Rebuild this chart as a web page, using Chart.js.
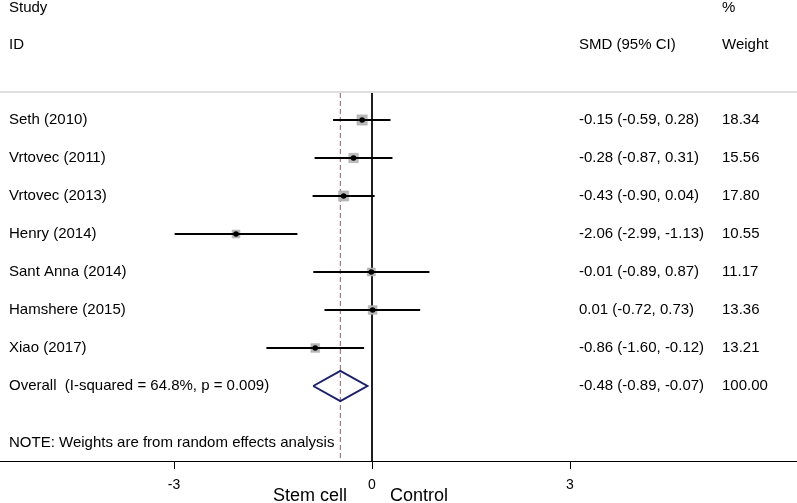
<!DOCTYPE html>
<html>
<head>
<meta charset="utf-8">
<script src="https://cdn.jsdelivr.net/npm/chart.js@4.4.1/dist/chart.umd.min.js"></script>
<style>
  body { margin: 0; background: #fff; }
  #wrap { width: 797px; height: 503px; }
</style>
</head>
<body>
<div id="wrap"><canvas id="forest"></canvas></div>
<script>
// data
const studies = ['Seth (2010)', 'Vrtovec (2011)', 'Vrtovec (2013)', 'Henry (2014)', 'Sant Anna (2014)', 'Hamshere (2015)', 'Xiao (2017)']
const smd = [-0.15, -0.28, -0.43, -2.06, -0.01, 0.01, -0.86]
const lower = [-0.59, -0.87, -0.90, -2.99, -0.89, -0.72, -1.60]
const upper = [0.28, 0.31, 0.04, -1.13, 0.87, 0.73, -0.12]
const weights = [18.34, 15.56, 17.80, 10.55, 11.17, 13.36, 13.21]
const overall = [-0.48, -0.89, -0.07] // est, lo, hi
const overallLabel = 'Overall  (I-squared = 64.8%, p = 0.009)'
const xTicks = [-3, 0, 3]

// row positions (row 1 = first study)
const yMin = -82 / 38
const yMax = 379 / 38
const xMin = -372 / 66
const xMax = 425 / 66
const overallRow = studies.length + 1

const font = '15px "Liberation Sans", Arial, sans-serif'

const datasets = []

// light line under the header
datasets.push({
    data: [{x: xMin, y: 10 / 38}, {x: xMax, y: 10 / 38}],
    showLine: true, borderColor: '#d4d4d4', borderWidth: 1.5, pointRadius: 0, order: 5
})
// line of no effect
datasets.push({
    data: [{x: 0, y: 11 / 38}, {x: 0, y: yMax}],
    showLine: true, borderColor: '#000', borderWidth: 1, pointRadius: 0, order: 4
})
// overall estimate dashed line
datasets.push({
    data: [{x: overall[0], y: 11 / 38}, {x: overall[0], y: yMax}],
    showLine: true, borderColor: '#8e5c6e', borderWidth: 1, borderDash: [5, 3], pointRadius: 0, order: 4
})
// weight boxes
datasets.push({
    data: smd.map(function(v, i){ return {x: v, y: i + 1} }),
    pointStyle: 'rect',
    pointRadius: weights.map(function(w){ return 1.7 * Math.sqrt(w) }),
    backgroundColor: '#b9b9b9', borderColor: '#a8a8a8', borderWidth: 0.5, order: 3
})
// CI lines
studies.forEach(function(s, i){
    datasets.push({
        data: [{x: lower[i], y: i + 1}, {x: upper[i], y: i + 1}],
        showLine: true, borderColor: '#000', borderWidth: 2, pointRadius: 0, order: 2
    })
})
// point estimates
datasets.push({
    data: smd.map(function(v, i){ return {x: v, y: i + 1} }),
    pointRadius: 2.8, backgroundColor: '#000', borderColor: '#000', borderWidth: 0, order: 1
})
// diamond
const dh = 15 / 38
datasets.push({
    data: [
        {x: overall[1], y: overallRow},
        {x: overall[0], y: overallRow - dh},
        {x: overall[2], y: overallRow},
        {x: overall[0], y: overallRow + dh},
        {x: overall[1], y: overallRow}
    ],
    showLine: true, borderColor: '#1b1f6e', borderWidth: 2, pointRadius: 0, tension: 0, order: 0
})

function fmt(v){ return v.toFixed(2) }

// text columns
const textPlugin = {
    id: 'forestText',
    afterDraw: function(chart){
        const ctx = chart.ctx
        const ys = chart.scales.y
        ctx.save()
        ctx.fillStyle = '#000'
        ctx.font = font
        ctx.textBaseline = 'middle'
        ctx.textAlign = 'left'
        const row = function(v){ return ys.getPixelForValue(v) }
        ctx.fillText('Study', 9, row(-1.95))
        ctx.fillText('%', 722, row(-1.95))
        ctx.fillText('ID', 9, row(-0.97))
        ctx.fillText('SMD (95% CI)', 579, row(-0.97))
        ctx.fillText('Weight', 722, row(-0.97))
        studies.forEach(function(s, i){
            const y = row(i + 1)
            ctx.fillText(s, 9, y)
            ctx.fillText(fmt(smd[i]) + ' (' + fmt(lower[i]) + ', ' + fmt(upper[i]) + ')', 579, y)
            ctx.fillText(fmt(weights[i]), 722, y)
        })
        const yo = row(overallRow)
        ctx.fillText(overallLabel, 9, yo)
        ctx.fillText(fmt(overall[0]) + ' (' + fmt(overall[1]) + ', ' + fmt(overall[2]) + ')', 579, yo)
        ctx.fillText('100.00', 722, yo)
        ctx.fillText('NOTE: Weights are from random effects analysis', 9, row(9.5))

        // favours labels under the axis
        ctx.font = '18px "Liberation Sans", Arial, sans-serif'
        ctx.textBaseline = 'alphabetic'
        ctx.textAlign = 'right'
        ctx.fillText('Stem cell', 347, 501)
        ctx.textAlign = 'left'
        ctx.fillText('Control', 390, 501)
        ctx.restore()
    }
}

const config = {
    type: 'scatter',
    data: { datasets: datasets },
    options: {
        responsive: true,
        maintainAspectRatio: false,
        animation: false,
        layout: { padding: 0, autoPadding: false },
        plugins: { legend: { display: false }, tooltip: { enabled: false } },
        scales: {
            x: {
                type: 'linear', min: xMin, max: xMax,
                afterBuildTicks: function(scale){ scale.ticks = xTicks.map(function(v){ return {value: v} }) },
                afterFit: function(scale){ scale.height = 42 },
                grid: { display: true, drawOnChartArea: false, drawTicks: true, tickLength: 8, color: '#000', lineWidth: 1 },
                border: { display: true, color: '#000', width: 1 },
                ticks: { color: '#000', padding: 8, font: { family: '"Liberation Sans", Arial, sans-serif', size: 14 } }
            },
            y: {
                type: 'linear', min: yMin, max: yMax, reverse: true, display: false
            }
        }
    },
    plugins: [textPlugin]
}

let myChart = new Chart(document.getElementById('forest'), config)
</script>
</body>
</html>
